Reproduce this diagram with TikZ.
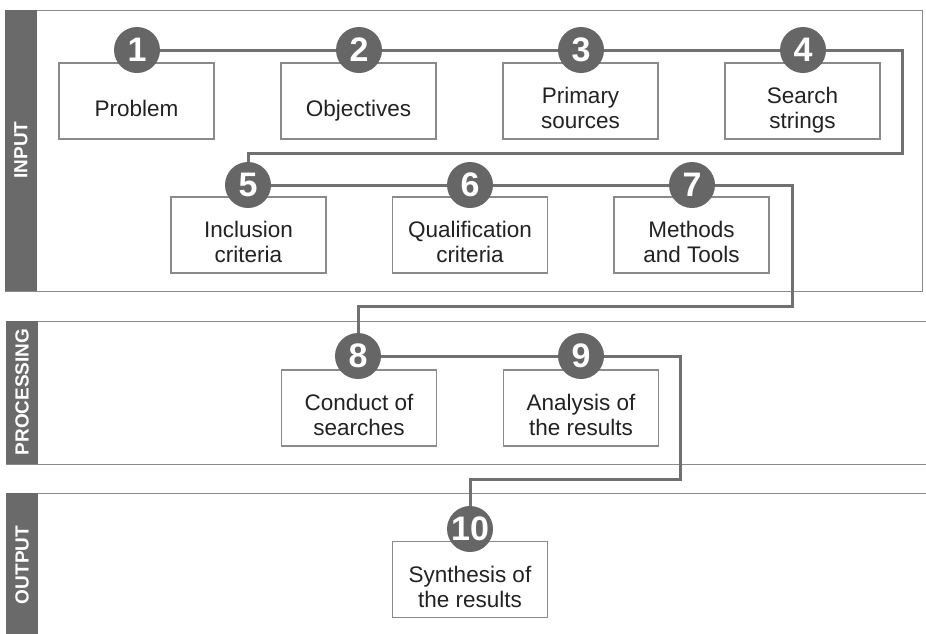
\documentclass[tikz,border=0pt]{standalone}
\usepackage{fontspec}
\setmainfont{Liberation Sans}
\pgfdeclarelayer{bg}
\pgfdeclarelayer{lines}
\pgfsetlayers{bg,lines,main}
\definecolor{stripgray}{HTML}{6A6A6A}
\definecolor{boxgray}{HTML}{8A8A8A}
\definecolor{linegray}{HTML}{707070}
\definecolor{circgray}{HTML}{666666}
\definecolor{txt}{HTML}{222222}
\newcommand\boxtext[1]{\raisebox{-10pt}[\height][\depth]{\begin{tabular}{@{}c@{}}#1\end{tabular}}}
\begin{document}
\begin{tikzpicture}[x=1pt,y=-1pt,
  stepbox/.style={draw=boxgray,line width=1.5pt,fill=white,minimum width=155pt,minimum height=76pt,
    inner sep=0pt,text=txt,font=\fontsize{22.5}{25}\selectfont},
  num/.style={circle,fill=circgray,minimum size=46pt,inner sep=0pt,text=white,
    font=\fontsize{34}{34}\selectfont\bfseries},
  band/.style={draw=boxgray,line width=1pt},
  strip/.style={fill=stripgray},
  striplabel/.style={rotate=90,text=white,font=\fontsize{19}{19}\selectfont\bfseries},
  conn/.style={draw=linegray,line width=3pt}]
\useasboundingbox (0,0) rectangle (926,633);
% bands
\begin{pgfonlayer}{bg}
\draw[band,fill=white] (5,10) rectangle (922,291);
\fill[strip] (5,10) rectangle (37,291);
\draw[band] (926,321) -- (6,321) -- (6,464) -- (926,464);
\fill[strip] (6,321) rectangle (38,464);
\draw[band] (926,493) -- (6,493) -- (6,640);
\fill[strip] (6,493) rectangle (38,640);
\end{pgfonlayer}
\node[striplabel] (lin) at (21,150) {INPUT};
\node[striplabel] (lproc) at (22,392) {PROCESSING};
\node[striplabel] (lout) at (22,565) {OUTPUT};
% boxes
\node[stepbox] (b1) at (136.5,101) {\boxtext{Problem}};
\node[stepbox] (b2) at (358.5,101) {\boxtext{Objectives}};
\node[stepbox] (b3) at (580.5,101) {\boxtext{Primary\\sources}};
\node[stepbox] (b4) at (802.5,101) {\boxtext{Search\\strings}};
\node[stepbox] (b5) at (248.5,235) {\boxtext{Inclusion\\criteria}};
\node[stepbox] (b6) at (470,235) {\boxtext{Qualification\\criteria}};
\node[stepbox] (b7) at (691.5,235) {\boxtext{Methods\\and Tools}};
\node[stepbox] (b8) at (359,408) {\boxtext{Conduct of\\searches}};
\node[stepbox] (b9) at (581,408) {\boxtext{Analysis of\\the results}};
\node[stepbox] (b10) at (470,579.5) {\boxtext{Synthesis of\\the results}};
% circles
\node[num] (c1) at (137,50) {1};
\node[num] (c2) at (359,50) {2};
\node[num] (c3) at (581,50) {3};
\node[num] (c4) at (803,50) {4};
\node[num] (c5) at (248,185) {5};
\node[num] (c6) at (470,185) {6};
\node[num] (c7) at (692,185) {7};
\node[num] (c8) at (358,356) {8};
\node[num] (c9) at (581,356) {9};
\node[num] (c10) at (470,529) {10};
% connectors
\coordinate (t1) at (902,153);
\coordinate (t2) at (792,306);
\coordinate (t3) at (680,479);
\begin{pgfonlayer}{lines}
\draw[conn] (c1.center) -- (c2.center) -- (c3.center) -- (c4.center) -| (t1) -- (t1 -| c5) -- (c5.center);
\draw[conn] (c5.center) -- (c6.center) -- (c7.center) -| (t2) -- (t2 -| c8) -- (c8.center);
\draw[conn] (c8.center) -- (c9.center) -| (t3) -- (t3 -| c10) -- (c10.center);
\end{pgfonlayer}
\end{tikzpicture}
\end{document}
